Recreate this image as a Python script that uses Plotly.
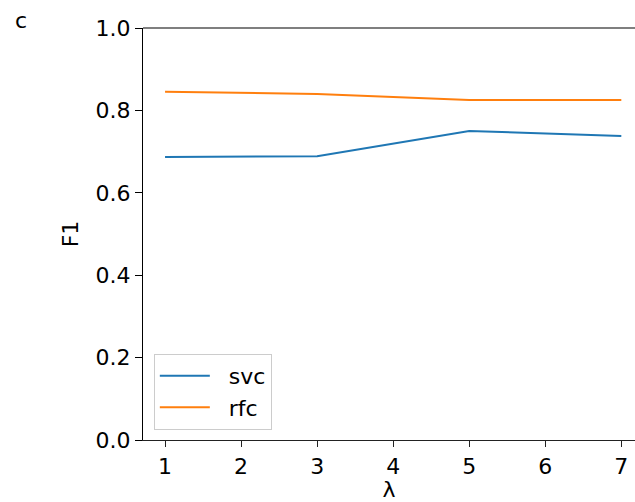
import plotly.graph_objects as go

lam = [1, 3, 5, 7]
svc = [0.687, 0.689, 0.750, 0.738]
rfc = [0.845, 0.840, 0.825, 0.825]
xticks = [1, 2, 3, 4, 5, 6, 7]
yticks = [0.0, 0.2, 0.4, 0.6, 0.8, 1.0]

fig = go.Figure()
fig.add_trace(go.Scatter(x=lam, y=svc, mode="lines", name="\u00a0\u00a0svc",
                         line=dict(color="#1f77b4", width=2)))
fig.add_trace(go.Scatter(x=lam, y=rfc, mode="lines", name="\u00a0\u00a0rfc",
                         line=dict(color="#ff7f0e", width=2)))

font = dict(family="DejaVu Sans", size=22, color="black")
fig.update_layout(
    width=635, height=502,
    margin=dict(l=143, r=0, t=28, b=62),
    paper_bgcolor="white", plot_bgcolor="white",
    font=font,
    showlegend=True,
    legend=dict(x=0.022, y=0.209, xanchor="left", yanchor="top",
                bgcolor="white", bordercolor="#cccccc", borderwidth=1,
                font=dict(family="DejaVu Sans", size=22, color="black"),
                itemwidth=50, tracegroupgap=0),
    xaxis=dict(range=[0.71, 7.18], tickvals=xticks, ticktext=[str(v) for v in xticks],
               showgrid=False, zeroline=False, showline=True, linecolor="#222222",
               linewidth=1.2, ticks="outside", ticklen=6, tickcolor="#222222",
               title=dict(text="λ", standoff=2, font=font)),
    yaxis=dict(range=[0, 1.0], tickvals=yticks, ticktext=[f"{v:.1f}" for v in yticks],
               showgrid=False, zeroline=False, showline=True, linecolor="black",
               linewidth=1.2, ticks="outside", ticklen=7, tickcolor="black",
               title=dict(text="F1", standoff=10, font=font)),
)
fig.add_shape(type="line", xref="paper", yref="paper", x0=0, x1=1, y0=1, y1=1,
              line=dict(color="#555555", width=1.5))
fig.add_annotation(text="c", xref="paper", yref="paper", x=-0.265, y=1.0,
                   xanchor="left", yanchor="bottom", showarrow=False, font=font,
                   yshift=-7)
fig.write_html("out.html")
